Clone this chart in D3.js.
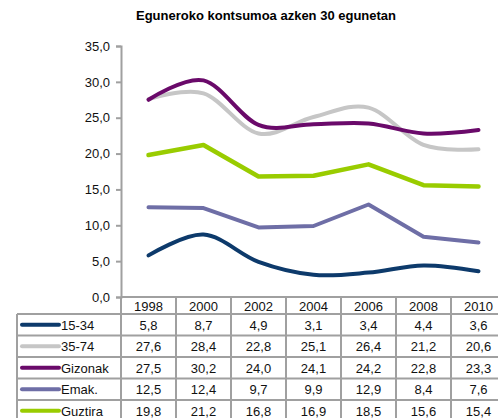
<!DOCTYPE html>
<html>
<head>
<meta charset="utf-8">
<script src="https://cdn.jsdelivr.net/npm/d3@7"></script>
<style>
  body { margin: 0; background: #fff; }
  svg { display: block; font-family: "Liberation Sans", Arial, sans-serif; }
</style>
</head>
<body>
<div id="chart"></div>
<script>
const w = 498,
      h = 418;

const title = 'Eguneroko kontsumoa azken 30 egunetan';
const years = ['1998', '2000', '2002', '2004', '2006', '2008', '2010'];
const yTicks = [0, 5, 10, 15, 20, 25, 30, 35];

const names = ['15-34', '35-74', 'Gizonak', 'Emak.', 'Guztira'];
const v1534 = [5.8, 8.7, 4.9, 3.1, 3.4, 4.4, 3.6];
const v3574 = [27.6, 28.4, 22.8, 25.1, 26.4, 21.2, 20.6];
const vGizonak = [27.5, 30.2, 24.0, 24.1, 24.2, 22.8, 23.3];
const vEmak = [12.5, 12.4, 9.7, 9.9, 12.9, 8.4, 7.6];
const vGuztira = [19.8, 21.2, 16.8, 16.9, 18.5, 15.6, 15.4];

const colors = ['#0d3a6b', '#c6c6c6', '#6a0a6a', '#6e6ea6', '#99cc00'];
const smooth = [true, true, true, false, false];
const values = [v1534, v3574, vGizonak, vEmak, vGuztira];

const series = names.map((n, i) => ({
  name: n, values: values[i], color: colors[i], smooth: smooth[i]
}));

const svg = d3.select('#chart')
  .append('svg')
  .attr('width', w)
  .attr('height', h);

const plotLeft = 121, colW = 55, plotTop = 46, plotBottom = 297;
const headerH = 17, rowH = 21.5, legendLeft = 17;
const gridColor = '#a0a0a0';

const xScale = d3.scaleBand()
  .domain(years)
  .range([plotLeft, plotLeft + colW * years.length]);

const yScale = d3.scaleLinear()
  .domain([0, 35])
  .range([plotBottom, plotTop]);

// title
svg.append('text')
  .attr('x', 266)
  .attr('y', 20)
  .attr('text-anchor', 'middle')
  .style('font-size', '13px')
  .style('font-weight', 'bold')
  .text(title);

// y axis
const yAxis = d3.axisLeft(yScale)
  .tickValues(yTicks)
  .tickSize(5)
  .tickPadding(6)
  .tickFormat(d => d3.format('.1f')(d).replace('.', ','));

const yg = svg.append('g')
  .attr('transform', `translate(${plotLeft}, 0)`)
  .call(yAxis);
yg.select('.domain').attr('stroke', gridColor).attr('stroke-width', 2);
yg.selectAll('.tick line').attr('stroke', gridColor).attr('stroke-width', 2);
yg.selectAll('.tick text')
  .style('font-size', '13px')
  .style('font-family', '"Liberation Sans", Arial, sans-serif')
  .attr('fill', '#111');

// lines
series.forEach(s => {
  const line = d3.line()
    .x((d, i) => xScale(years[i]) + xScale.bandwidth() / 2)
    .y(d => yScale(d))
    .curve(s.smooth ? d3.curveCardinal.tension(0) : d3.curveLinear);
  svg.append('path')
    .datum(s.values)
    .attr('fill', 'none')
    .attr('stroke', s.color)
    .attr('stroke-width', s.name === 'Guztira' ? 4.5 : 4)
    .attr('stroke-linejoin', 'round')
    .attr('stroke-linecap', 'round')
    .attr('d', line);
});

// data table
const tableRight = plotLeft + colW * years.length;
const rowsTop = plotBottom + headerH;
const tableBottom = rowsTop + rowH * series.length;
const grid = svg.append('g')
  .attr('stroke', gridColor)
  .attr('stroke-width', 2);

grid.append('line')
  .attr('x1', plotLeft).attr('x2', tableRight)
  .attr('y1', plotBottom).attr('y2', plotBottom);
d3.range(series.length + 1).forEach(i => {
  grid.append('line')
    .attr('x1', legendLeft).attr('x2', tableRight)
    .attr('y1', rowsTop + i * rowH).attr('y2', rowsTop + i * rowH);
});
grid.append('line')
  .attr('x1', legendLeft).attr('x2', legendLeft)
  .attr('y1', rowsTop).attr('y2', tableBottom);
d3.range(years.length + 1).forEach(i => {
  const x = plotLeft + i * colW;
  grid.append('line')
    .attr('x1', x).attr('x2', x)
    .attr('y1', plotBottom).attr('y2', tableBottom);
});

svg.selectAll('.year-label')
  .data(years)
  .enter()
  .append('text')
  .attr('class', 'year-label')
  .attr('x', d => xScale(d) + xScale.bandwidth() / 2)
  .attr('y', plotBottom + headerH / 2 + 5)
  .attr('text-anchor', 'middle')
  .style('font-size', '13px')
  .attr('fill', '#111')
  .text(d => d);

const rows = svg.selectAll('.row')
  .data(series)
  .enter()
  .append('g')
  .attr('class', 'row')
  .attr('transform', (d, i) => `translate(0, ${rowsTop + i * rowH + rowH / 2})`);

rows.append('line')
  .attr('x1', 22).attr('x2', 59)
  .attr('y1', 0).attr('y2', 0)
  .attr('stroke', d => d.color)
  .attr('stroke-width', 4)
  .attr('stroke-linecap', 'round');

rows.append('text')
  .attr('x', 61)
  .attr('y', 5)
  .style('font-size', '13px')
  .attr('fill', '#111')
  .text(d => d.name);

rows.selectAll('.val')
  .data(d => d.values)
  .enter()
  .append('text')
  .attr('class', 'val')
  .attr('x', (d, i) => xScale(years[i]) + xScale.bandwidth() / 2)
  .attr('y', 5)
  .attr('text-anchor', 'middle')
  .style('font-size', '13px')
  .attr('fill', '#111')
  .text(d => d3.format('.1f')(d).replace('.', ','));
</script>
</body>
</html>
